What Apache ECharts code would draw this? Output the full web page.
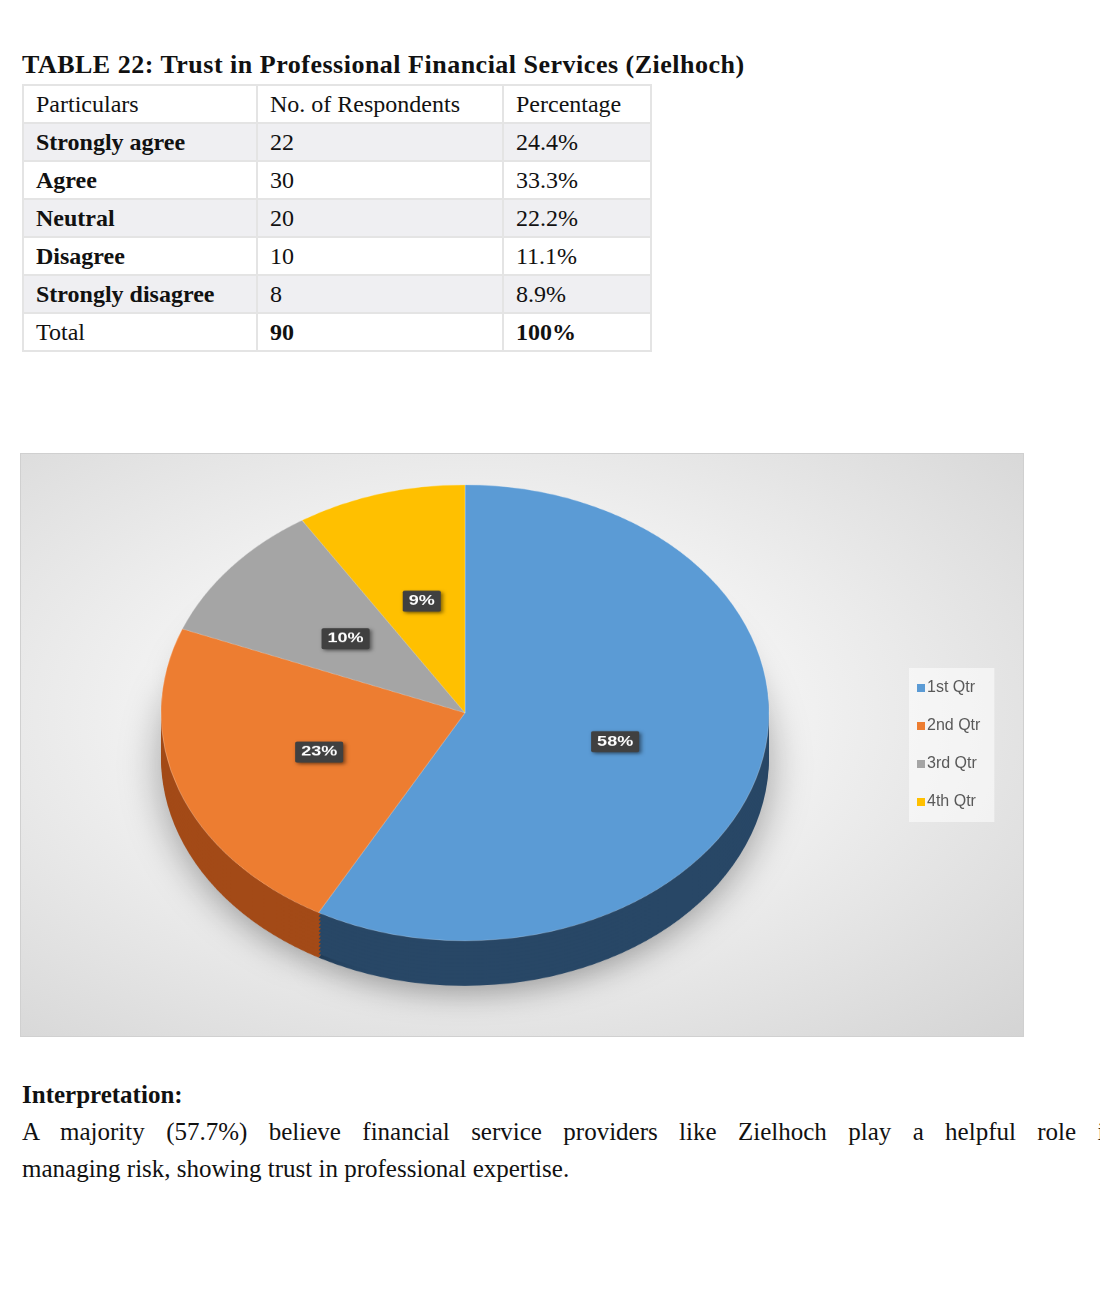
<!DOCTYPE html>
<html>
<head>
<meta charset="utf-8">
<script src="https://cdn.jsdelivr.net/npm/echarts@6/dist/echarts.min.js"></script>
<style>
body{margin:0;background:#fff;font-family:"Liberation Serif",serif;color:#111;}
#page{position:relative;width:1100px;height:1291px;overflow:hidden;}
h1{position:absolute;left:22px;top:50px;margin:0;font-size:26px;font-weight:bold;letter-spacing:0.5px;white-space:nowrap;}
table{position:absolute;left:22px;top:84px;border-collapse:collapse;font-size:24px;}
td{border:2px solid #e4e4e4;height:36px;padding:0 12px;line-height:36px;}
tr:nth-child(even) td{background:#efeff2;}
.panel{position:absolute;left:20px;top:453px;width:1004px;height:584px;overflow:hidden;
  background:radial-gradient(ellipse at 45% 45%,#ffffff 0%,#f2f2f2 40%,#d4d4d4 100%);border:1px solid #d0d0d0;box-sizing:border-box;}
#pie{position:absolute;left:0;top:0;width:1004px;height:779px;transform:scaleY(0.75);transform-origin:0 0;}
#leg{position:absolute;left:0;top:0;width:1004px;height:584px;}
.txt{position:absolute;left:22px;top:1076px;width:1100px;font-size:25px;line-height:37px;}
.l1{display:block;width:1095px;text-align:justify;text-align-last:justify;white-space:nowrap;}
</style>
</head>
<body>
<div id="page">
<h1>TABLE 22: Trust in Professional Financial Services (Zielhoch)</h1>
<table>
<tr><td style="width:208px">Particulars</td><td style="width:220px">No. of Respondents</td><td style="width:122px">Percentage</td></tr>
<tr><td><b>Strongly agree</b></td><td>22</td><td>24.4%</td></tr>
<tr><td><b>Agree</b></td><td>30</td><td>33.3%</td></tr>
<tr><td><b>Neutral</b></td><td>20</td><td>22.2%</td></tr>
<tr><td><b>Disagree</b></td><td>10</td><td>11.1%</td></tr>
<tr><td><b>Strongly disagree</b></td><td>8</td><td>8.9%</td></tr>
<tr><td>Total</td><td><b>90</b></td><td><b>100%</b></td></tr>
</table>
<div class="panel"><div id="pie"></div><div id="leg"></div></div>
<div class="txt"><b>Interpretation:</b><br>
<span class="l1">A majority (57.7%) believe financial service providers like Zielhoch play a helpful role in</span>
managing risk, showing trust in professional expertise.</div>
</div>
<script>
var quarters = ['1st Qtr', '2nd Qtr', '3rd Qtr', '4th Qtr'];
var shares = [58, 23, 10, 9];
var topColors = ['#5B9BD5', '#ED7D31', '#A5A5A5', '#FFC000'];
var sideColors = ['#284766', '#A34A17', '#6E6E6E', '#A67C00'];

var pie = echarts.init(document.getElementById('pie'));
var series = [];
var layers = 12, depth = 60, cx = 444, cy = 345, r = 304;
// extruded side: stacked darker layers
for (var k = layers; k >= 1; k--) {
  series.push({
    type: 'pie', silent: true, animation: false,
    center: [cx, cy + depth * k / layers], radius: r,
    startAngle: 90, clockwise: true,
    label: {show: false}, labelLine: {show: false},
    itemStyle: k === layers ? {shadowBlur: 40, shadowColor: 'rgba(0,0,0,0.35)', shadowOffsetY: 10} : {},
    data: shares.map(function (v, i) {
      return {value: v, name: quarters[i], itemStyle: {color: sideColors[i]}};
    })
  });
}
series.push({
  type: 'pie', animation: false,
  center: [cx, cy], radius: r, startAngle: 90, clockwise: true,
  itemStyle: {borderColor: 'rgba(255,255,255,0.25)', borderWidth: 1},
  label: {
    show: true, position: 'inner', formatter: '{c}%',
    color: '#fff', fontSize: 18, fontWeight: 'bold', fontFamily: 'Liberation Sans',
    backgroundColor: '#404040', padding: [6, 6, 4, 6], borderRadius: 2,
    shadowBlur: 4, shadowColor: 'rgba(0,0,0,0.5)', shadowOffsetX: 2, shadowOffsetY: 2
  },
  labelLine: {show: false},
  data: shares.map(function (v, i) {
    return {value: v, name: quarters[i], itemStyle: {color: topColors[i]}};
  })
});
pie.setOption({series: series});

var leg = echarts.init(document.getElementById('leg'));
leg.setOption({
  color: topColors,
  legend: {
    orient: 'vertical', left: 888, top: 214, icon: 'rect',
    itemWidth: 8, itemHeight: 8, itemGap: 22,
    padding: [12, 14, 12, 8],
    backgroundColor: 'rgba(255,255,255,0.55)',
    textStyle: {fontSize: 16, color: '#595959', fontFamily: 'Liberation Sans', padding: [0, 0, 0, -3]},
    data: quarters
  },
  series: [{
    type: 'pie', radius: 0, silent: true, label: {show: false},
    data: shares.map(function (v, i) { return {value: v, name: quarters[i]}; })
  }]
});
</script>
</body>
</html>
